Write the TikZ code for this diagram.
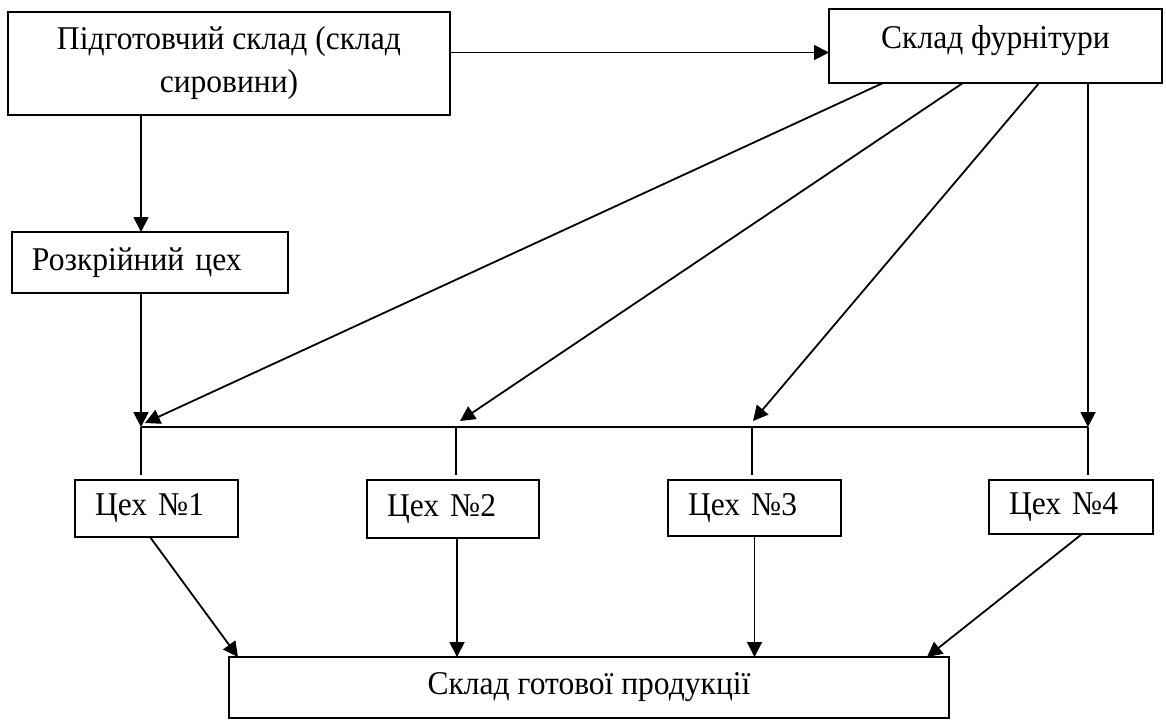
\documentclass[tikz,border=0pt]{standalone}
\usepackage{fontspec}
\setmainfont{Liberation Serif}[FakeStretch=0.95]
\usetikzlibrary{calc, positioning, arrows.meta}

\begin{document}
\begin{tikzpicture}[x=0.5pt, y=-0.5pt,
    font=\fontsize{16.6}{21.5}\selectfont,
    box/.style={draw, line width=1pt, rectangle, outer sep=0pt, inner sep=0pt, anchor=north west},
    shopbox/.style={box, align=left, inner xsep=10pt},
    arr/.style={-{Triangle[length=7.5pt,width=7.5pt]}, line width=0.9pt},
    ln/.style={line width=0.9pt}]
    \useasboundingbox (0,0) rectangle (1166,720);
    % boxes
    \node[box, minimum width=221pt, minimum height=51.5pt, align=center] (prep) at (8,12) {Підготовчий склад (склад\\сировини)};
    \node[box, minimum width=166.5pt, inner ysep=8.5pt, text height=11pt, text depth=9pt, align=center] (furn) at (829,9) {Склад фурнітури};
    \node[shopbox, text width=118pt, minimum height=30.5pt] (cut) at (12,232) {Розкрійний цех};
    \node[shopbox, text width=61.5pt, minimum height=28.5pt] (w1) at (75,480) {Цех №1};
    \node[shopbox, text width=66pt, minimum height=29pt] (w2) at (367,480) {Цех №2};
    \node[shopbox, text width=66.5pt, minimum height=28pt] (w3) at (668,480) {Цех №3};
    \node[shopbox, text width=62pt, minimum height=27pt] (w4) at (989,480) {Цех №4};
    \node[box, minimum width=360pt, minimum height=30.5pt, align=center] (final) at (229,657) {Склад готової продукції};
    % bus
    \coordinate (j1) at (141,427);
    \coordinate (j2) at (456,427);
    \coordinate (j3) at (752,427);
    \coordinate (j4) at (1088,427);
    \coordinate (t1) at (145,423);
    \coordinate (t2) at (460,421);
    \coordinate (t3) at (753,421);
    \coordinate (h) at ([yshift=-3.25pt]furn.west);
    % arrows
    \draw[arr] (prep.east |- h) -- (h);
    \draw[arr] (prep.south -| j1) -- (cut.north -| j1);
    \draw[arr] (cut.south -| j1) -- (j1);
    \draw[ln] (j1) -- (j4);
    \foreach \i in {1,...,4}
        \draw[ln] (j\i) -- ([yshift=2.5pt]j\i |- w\i.north);
    \foreach \f/\t in {0.162/t1, 0.402/t2, 0.631/t3}
        \draw[arr] ($(furn.south west)!\f!(furn.south east)$) -- (\t);
    \draw[arr] (furn.south -| j4) -- (j4);
    \draw[arr] ([xshift=-3.25pt]w1.south) -- ([xshift=4.5pt]final.north west);
    \draw[arr] ([xshift=2pt]w2.south) -- ([xshift=2pt]w2.south |- final.north);
    \draw[arr] (w3.south) -- (w3.south |- final.north);
    \draw[arr] ([xshift=5.5pt]w4.south) -- ([xshift=-11pt]final.north east);
\end{tikzpicture}
\end{document}
